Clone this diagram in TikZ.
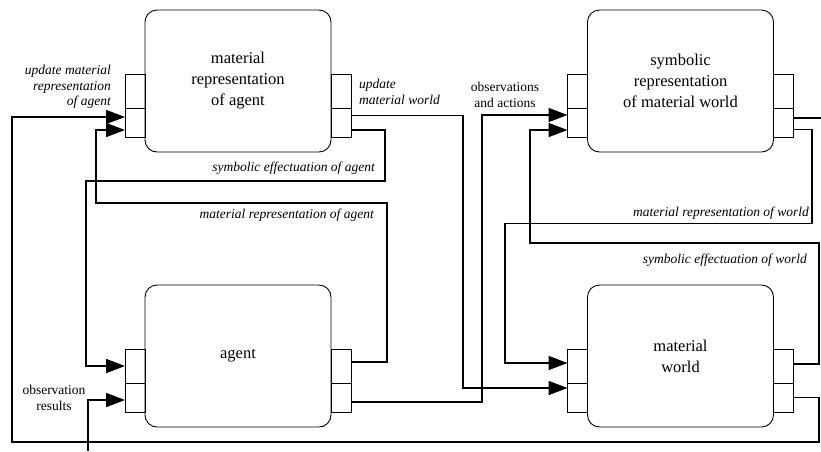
\documentclass[tikz,border=0pt]{standalone}
\usepackage{fontspec}
\setmainfont{Liberation Serif}
\usepackage{tikz}
\usetikzlibrary{arrows.meta,positioning}
\tikzset{
x=1pt, y=1pt, % one unit is one point, as in the drawing
box/.style={draw, line width=0.9pt, rounded corners=12pt, outer sep=0pt, minimum width=186pt, minimum height=142pt, align=center, font=\fontsize{16.5}{21}\selectfont}, % the four blocks
upcell/.style={draw, line width=0.9pt, minimum width=20pt, minimum height=34pt, inner sep=0pt, outer sep=0pt}, % upper half of a port
lowcell/.style={upcell, minimum height=29pt}, % lower half of a port
link/.style={line width=1.6pt}, % plain connector
feed/.style={link, -{Triangle[length=19pt,width=14pt]}}, % connector into a port
lbl/.style={inner sep=0pt, font=\fontsize{13.5}{15.5}\selectfont}, % upright label
ilbl/.style={inner sep=0pt, font=\fontsize{13.5}{15.5}\selectfont\itshape}, % italic label
}
\begin{document}
\begin{tikzpicture}
	\useasboundingbox (0,0) rectangle (821,-451);
	% blocks
	\node[box] (mra) at (238,-81) {material\\representation\\of agent};
	\node[box] (srw) at (680.5,-81) {symbolic\\representation\\of material world};
	\node[box] (ag) at (238,-356) {agent};
	\node[box] (mw) at (680.5,-356) {material\\world};
	% ports
	\foreach \b in {mra,srw,ag,mw} {
		\node[lowcell, above left=15pt and 0pt of \b.south west] (\b Ld) {};
		\node[upcell, above=0pt of \b Ld] (\b Lu) {};
		\node[lowcell, above right=15pt and 0pt of \b.south east] (\b Rd) {};
		\node[upcell, above=0pt of \b Rd] (\b Ru) {};
	}
	\coordinate (obsIn) at (88,-451);
	\coordinate (srwOut) at (821,-118);
	% connectors
	\draw[feed] (mwRd.east) -- ++(25.5,0) |- ++(-807,-44.5) |- ([yshift=5.5pt]mraLd.west);
	\draw[feed] ([yshift=4pt]agRu.east) -- ++(36,0) |- ++(-291,159) |- ([yshift=-7.5pt]mraLd.west);
	\draw[feed] ([yshift=-7.5pt]mraRd.east) -- ++(34,0) |- ++(-299,-51) |- (agLu.west);
	\draw[feed] ([yshift=7pt]mraRd.east) -- ++(112,0) |- ([yshift=9.5pt]mwLd.west);
	\draw[feed] ([yshift=-4.5pt]agRd.east) -- ++(131,0) |- ([yshift=7.5pt]srwLd.west);
	\draw[feed] ([yshift=2pt]mwRu.east) -- ++(25.5,0) |- ++(-289,121) |- ([yshift=-7.5pt]srwLd.west);
	\draw[feed] ([yshift=-7pt]srwRd.east) -- ++(18.5,0) |- ++(-307,-94) |- ([yshift=3pt]mwLu.west);
	\draw[link] ([yshift=4.5pt]srwRd.east) -- (srwOut);
	\draw[feed] (obsIn) |- ([yshift=-2.5pt]agLd.west);
	% labels
	\node[ilbl, align=right, anchor=north east] (lupdA) at (111,-65) {update material\\representation\\of agent};
	\node[ilbl, align=left, anchor=north west] (lupdW) at (359,-79) {update\\material world};
	\node[ilbl, anchor=base east] (lsymA) at (375,-171) {symbolic effectuation of agent};
	\node[ilbl, anchor=base east] (lmatA) at (374,-218) {material representation of agent};
	\node[lbl, align=center, anchor=north] (lobsA) at (505,-82) {observations\\and actions};
	\node[ilbl, anchor=base east] (lmatW) at (809,-216) {material representation of world};
	\node[ilbl, anchor=base east] (lsymW) at (807,-263) {symbolic effectuation of world};
	\node[lbl, align=center, anchor=north] (lobsR) at (54,-385) {observation\\results};
\end{tikzpicture}
\end{document}
